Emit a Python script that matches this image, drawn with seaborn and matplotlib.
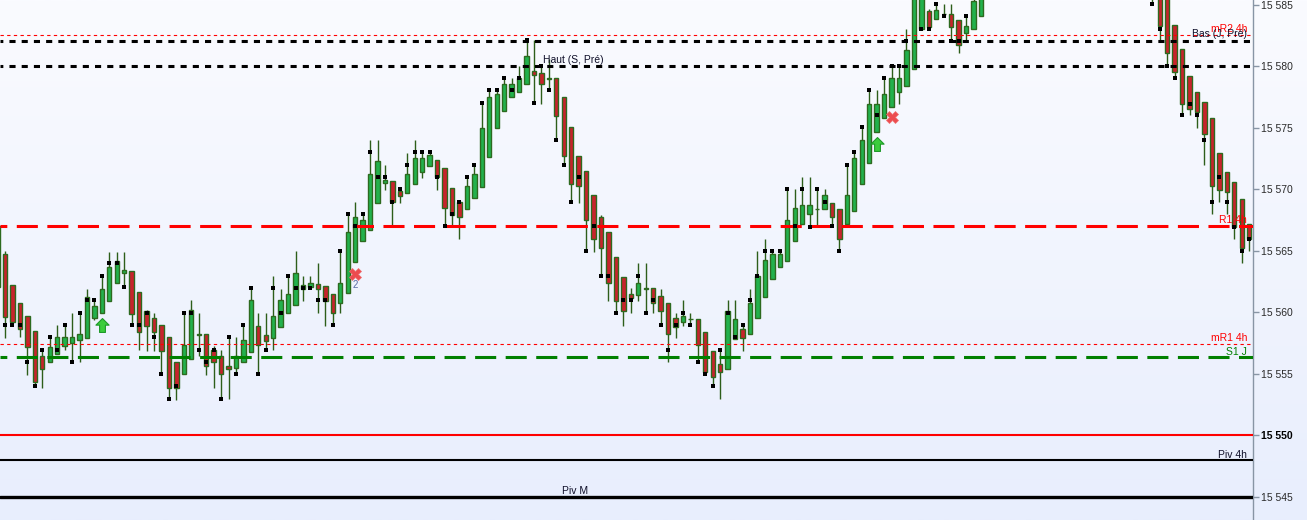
import numpy as np
import pandas as pd
import matplotlib
matplotlib.use("Agg")
import matplotlib.pyplot as plt
import seaborn as sns
from matplotlib.path import Path

sns.set_style("white")
plt.rcParams['font.family'] = ['Liberation Sans', 'DejaVu Sans']

# ---------------- data (prices) ----------------
opens = [15562.0,
    15564.75, 15562.2, 15560.7, 15559.65, 15558.45, 15556.4, 15555.9, 15556.55, 15557.2, 15557.5,
    15557.7, 15557.9, 15559.55, 15559.95, 15560.9, 15562.35, 15563.2, 15563.35, 15561.65, 15560.1,
    15559.5, 15558.95, 15557.95, 15555.95, 15554.95, 15556.15, 15558.2, 15558.2, 15556.9, 15556.4,
    15555.65, 15555.45, 15555.95, 15556.75, 15558.85, 15558.1, 15557.85, 15558.75, 15559.9, 15560.6,
    15561.85, 15562.05, 15562.25, 15562.1, 15561.5, 15560.7, 15561.55, 15564.05, 15565.8, 15566.65,
    15568.9, 15570.5, 15570.65, 15569.85, 15569.65, 15570.4, 15571.4, 15571.9, 15572.35, 15571.7,
    15570.05, 15568.95, 15568.35, 15569.25, 15570.2, 15572.6, 15575.0, 15576.35, 15577.45, 15577.9,
    15578.5, 15579.6, 15579.4, 15579.0, 15579.0, 15577.45, 15575.05, 15572.7, 15571.5, 15569.5,
    15567.7, 15566.5, 15564.45, 15562.85, 15561.5, 15561.35, 15561.95, 15561.95, 15561.3, 15560.7,
    15559.5, 15559.15, 15559.4, 15559.4, 15558.4, 15556.8, 15555.75, 15555.4, 15557.8, 15558.6,
    15558.25, 15559.5, 15561.2, 15562.65, 15563.7, 15564.15, 15565.8, 15567.15, 15567.95, 15568.4,
    15568.35, 15568.9, 15568.35, 15567.15, 15568.25, 15570.4, 15572.15, 15574.6, 15575.75, 15576.7,
    15577.85, 15578.4, 15579.8, 15583.0, 15584.45, 15583.85, 15584.25, 15584.25, 15583.75, 15582.7,
    15583.0, 15584.1, 15586.3, 15587.5, 15588.6, 15589.1, 15590.8, 15590.1, 15589.4, 15590.2,
    15591.7, 15592.3, 15591.4, 15590.3, 15591.0, 15589.6, 15588.7, 15589.3, 15588.2, 15587.4,
    15588.0, 15587.2, 15586.8, 15587.9, 15587.1, 15586.6, 15586.0, 15583.35, 15581.35, 15579.2,
    15577.9, 15577.05, 15575.75, 15572.95, 15571.4, 15570.6, 15569.15, 15567.15]

highs = [15567.3,
    15565.0, 15562.2, 15560.7, 15559.65, 15558.45, 15556.9, 15558.0, 15558.95, 15558.95, 15559.9,
    15559.9, 15561.9, 15561.0, 15562.95, 15564.9, 15564.9, 15564.9, 15563.35, 15561.65, 15560.15,
    15559.9, 15558.95, 15557.95, 15555.95, 15559.95, 15561.0, 15559.9, 15558.2, 15557.2, 15556.9,
    15558.0, 15558.0, 15558.95, 15561.95, 15559.9, 15559.9, 15562.95, 15561.9, 15562.95, 15564.95,
    15562.95, 15562.95, 15563.95, 15562.1, 15561.5, 15564.95, 15567.95, 15568.95, 15567.95, 15573.95,
    15573.95, 15571.95, 15570.65, 15570.0, 15572.95, 15573.95, 15573.0, 15573.0, 15572.35, 15571.7,
    15570.05, 15568.95, 15571.0, 15571.95, 15577.0, 15578.05, 15578.05, 15579.05, 15579.0, 15580.0,
    15582.1, 15582.1, 15580.15, 15580.6, 15579.0, 15577.45, 15575.05, 15572.7, 15571.5, 15569.5,
    15567.9, 15566.5, 15564.45, 15562.85, 15561.95, 15563.95, 15563.95, 15561.95, 15561.9, 15560.7,
    15559.9, 15560.95, 15559.9, 15559.4, 15558.4, 15556.8, 15556.9, 15560.95, 15560.95, 15558.95,
    15561.9, 15564.95, 15565.95, 15564.95, 15564.95, 15570.0, 15570.0, 15570.95, 15570.95, 15570.0,
    15570.0, 15568.9, 15568.35, 15571.95, 15573.05, 15575.05, 15578.05, 15578.05, 15579.05, 15580.0,
    15580.0, 15583.0, 15587.5, 15588.5, 15584.6, 15585.05, 15585.05, 15585.05, 15583.75, 15584.1,
    15586.0, 15587.0, 15588.0, 15589.2, 15590.0, 15591.3, 15592.0, 15591.0, 15590.6, 15592.4,
    15593.1, 15593.5, 15592.2, 15591.7, 15591.9, 15590.3, 15589.9, 15590.1, 15589.0, 15588.6,
    15588.9, 15588.1, 15588.3, 15588.8, 15587.9, 15587.0, 15586.5, 15583.35, 15581.35, 15579.2,
    15577.9, 15577.05, 15575.75, 15572.95, 15571.4, 15570.6, 15569.15, 15567.15]

lows = [15561.5,
    15557.9, 15558.9, 15557.95, 15554.9, 15553.95, 15553.85, 15555.9, 15556.55, 15556.9, 15555.85,
    15555.9, 15557.9, 15559.35, 15559.95, 15560.9, 15562.35, 15562.05, 15558.95, 15556.9, 15556.85,
    15556.85, 15555.15, 15553.1, 15552.85, 15554.95, 15556.15, 15556.4, 15554.9, 15553.85, 15552.9,
    15552.9, 15555.0, 15555.95, 15556.75, 15555.0, 15556.85, 15556.9, 15558.75, 15559.9, 15560.6,
    15560.9, 15562.05, 15559.9, 15558.9, 15558.95, 15559.9, 15561.55, 15564.05, 15565.8, 15566.65,
    15568.9, 15569.9, 15567.0, 15568.9, 15569.65, 15570.4, 15570.9, 15571.9, 15569.9, 15566.95,
    15567.05, 15565.9, 15568.35, 15569.25, 15570.2, 15572.6, 15575.0, 15576.35, 15577.45, 15577.9,
    15578.5, 15577.0, 15576.95, 15578.05, 15573.95, 15571.95, 15568.95, 15568.9, 15565.0, 15564.9,
    15562.95, 15560.9, 15559.9, 15558.9, 15559.9, 15560.9, 15559.95, 15559.9, 15558.95, 15555.9,
    15557.9, 15558.85, 15558.95, 15555.95, 15554.95, 15553.95, 15552.9, 15555.4, 15557.8, 15556.85,
    15558.25, 15559.5, 15561.2, 15562.65, 15563.7, 15564.15, 15565.8, 15567.15, 15566.95, 15567.05,
    15568.35, 15567.0, 15565.0, 15567.15, 15568.25, 15570.4, 15572.15, 15574.6, 15575.75, 15576.7,
    15576.95, 15578.4, 15579.8, 15583.0, 15583.0, 15583.85, 15584.1, 15582.05, 15581.05, 15582.0,
    15583.0, 15584.1, 15585.8, 15586.9, 15587.8, 15588.4, 15589.6, 15588.7, 15588.2, 15589.9,
    15590.8, 15590.9, 15589.8, 15589.5, 15589.1, 15588.0, 15587.6, 15587.9, 15586.8, 15586.5,
    15586.9, 15586.2, 15586.4, 15586.6, 15585.05, 15582.1, 15580.0, 15579.05, 15576.0, 15576.0,
    15575.0, 15571.95, 15568.0, 15568.95, 15568.0, 15565.9, 15563.95, 15564.95]

closes = [15567.0,
    15559.6, 15559.15, 15558.65, 15557.15, 15554.35, 15555.4, 15557.15, 15557.95, 15557.95, 15557.95,
    15558.2, 15561.2, 15560.45, 15561.9, 15563.7, 15564.15, 15563.45, 15559.85, 15558.4, 15558.9,
    15558.4, 15556.85, 15553.85, 15553.85, 15557.35, 15560.15, 15558.15, 15555.65, 15555.9, 15554.95,
    15555.4, 15556.4, 15557.7, 15560.95, 15557.3, 15557.65, 15559.65, 15560.95, 15561.45, 15563.15,
    15562.2, 15562.4, 15561.9, 15560.9, 15559.9, 15562.4, 15566.5, 15567.7, 15567.5, 15571.2,
    15572.25, 15570.75, 15568.95, 15569.45, 15571.2, 15572.5, 15572.5, 15572.75, 15571.0, 15568.45,
    15567.9, 15567.7, 15570.25, 15571.2, 15575.0, 15577.45, 15577.7, 15578.55, 15578.55, 15579.05,
    15580.8, 15579.25, 15578.5, 15578.95, 15575.95, 15572.7, 15570.45, 15570.25, 15567.5, 15565.9,
    15565.2, 15562.4, 15560.9, 15560.1, 15561.15, 15562.4, 15561.9, 15560.7, 15560.1, 15558.2,
    15558.8, 15559.65, 15559.4, 15557.35, 15555.15, 15554.7, 15555.15, 15560.1, 15559.4, 15557.9,
    15560.7, 15562.95, 15564.25, 15564.7, 15564.7, 15567.5, 15568.45, 15568.7, 15568.7, 15568.35,
    15569.5, 15567.7, 15565.9, 15569.5, 15572.5, 15573.95, 15576.95, 15576.95, 15577.7, 15579.0,
    15579.0, 15581.3, 15586.8, 15587.8, 15583.2, 15584.55, 15584.2, 15583.2, 15581.75, 15583.25,
    15585.3, 15586.5, 15587.5, 15588.6, 15589.1, 15590.8, 15590.1, 15589.4, 15590.2, 15591.7,
    15592.3, 15591.4, 15590.3, 15591.0, 15589.6, 15588.7, 15589.3, 15588.2, 15587.4, 15588.0,
    15587.2, 15586.8, 15587.9, 15587.1, 15586.6, 15583.25, 15581.05, 15579.5, 15576.95, 15576.5,
    15576.25, 15574.45, 15570.25, 15569.95, 15569.75, 15566.95, 15565.2, 15565.9]

nan = float("nan")
squares = [nan,
    15558.95, 15558.95, 15558.95, 15555.95, 15553.95, 15556.9, 15558.0, 15556.9, 15558.95, 15555.95,
    15559.9, 15561.0, 15561.0, 15562.95, 15564.0, 15564.0, 15562.0, 15558.95, 15558.95, 15559.9,
    15558.0, 15554.95, 15552.95, 15553.95, 15559.95, 15559.95, 15556.9, 15555.95, 15556.9, 15552.95,
    15558.0, 15555.0, 15558.95, 15561.95, 15555.0, 15556.9, 15561.95, 15559.95, 15562.95, 15561.95,
    15561.95, 15561.95, 15560.95, 15560.95, 15558.95, 15564.95, 15567.95, 15567.0, 15567.95, 15573.0,
    15571.0, 15571.0, 15568.95, 15570.0, 15571.95, 15573.0, 15573.0, 15573.0, 15571.0, 15567.0,
    15568.0, 15568.95, 15571.0, 15571.95, 15577.0, 15578.05, 15578.05, 15579.05, 15578.05, 15579.05,
    15582.1, 15577.0, 15580.0, 15578.05, 15573.95, 15571.95, 15568.95, 15571.0, 15565.0, 15567.0,
    15562.95, 15562.95, 15559.9, 15560.95, 15560.95, 15562.95, 15559.95, 15560.95, 15558.95, 15556.9,
    15558.95, 15559.95, 15558.95, 15555.95, 15554.95, 15553.95, 15556.9, 15559.95, 15557.95, 15558.95,
    15560.95, 15562.95, 15564.95, 15564.95, 15564.95, 15570.0, 15567.0, 15570.0, 15566.95, 15570.0,
    15568.95, 15567.0, 15565.0, 15571.95, 15573.05, 15575.05, 15578.05, 15576.0, 15579.05, 15580.0,
    15580.0, 15582.05, nan, 15583.0, 15583.0, 15585.05, 15584.1, 15582.05, 15582.05, 15584.1,
    nan, nan, nan, nan, nan, nan, nan, nan, nan, nan,
    nan, nan, nan, nan, nan, nan, nan, nan, nan, nan,
    nan, nan, nan, nan, 15585.05, 15583.0, 15580.0, 15579.05, 15576.0, 15576.95,
    15576.0, 15573.95, 15568.95, 15571.0, 15568.95, 15566.95, 15564.95, 15565.95]

# signal markers (bar index, price)
buy_idx = [14, 118]
buy_price = [15558.98, 15573.7]
exit_idx = [48, 120]
exit_price = [15563.1, 15575.83]
exit_note = ["2", ""]
exit_note_price = [15562.2, nan]

# horizontal levels
r1_4h = 15567.0
s1_j = 15556.35
mr1_4h = 15557.37
mr2_4h = 15582.52
bas_j_pre = 15582.03
haut_s_pre = 15580.0
last_price = 15550.0
piv_4h = 15547.97
piv_m = 15545.0

ytick_values = [15545, 15550, 15555, 15560, 15565, 15570, 15575, 15580, 15585]

df = pd.DataFrame({"open": opens, "high": highs, "low": lows, "close": closes, "mark": squares})
df["x"] = np.arange(len(df))

# ---------------- figure ----------------
W, H = 1307, 520
fig = plt.figure(figsize=(W / 100, H / 100), dpi=100)

bg = fig.add_axes([0, 0, 1, 1])
top = np.array([250, 251, 255]) / 255
bot = np.array([232, 238, 253]) / 255
t = np.linspace(0, 1, 256)[:, None, None]
grad = top[None, None, :] * (1 - t) + bot[None, None, :] * t
bg.imshow(grad, aspect="auto", extent=[0, 1, 0, 1], origin="upper")
bg.set_axis_off()
bg.set_zorder(0)

plot_w = 1253
ax = fig.add_axes([0, 0, plot_w / W, 1])
ax.set_zorder(1)
ax.patch.set_alpha(0)

up_fill = "#22b14c"
dn_fill = "#c8232c"
edge = "#2d6a1f"
wick = "#2d5e1a"

up = df["close"] >= df["open"]
ax.vlines(df["x"], df["low"], df["high"], color=wick, lw=1, zorder=2)
body_bottom = np.minimum(df["open"], df["close"])
body_h = np.abs(df["close"] - df["open"])
ax.bar(df["x"], body_h, bottom=body_bottom, width=0.58,
       color=np.where(up, up_fill, dn_fill), edgecolor=edge, linewidth=1, zorder=2)

# level lines
ax.axhline(r1_4h, color="#ff0000", lw=2.2, linestyle=(4.67, (6.9, 3.1)), zorder=3)
ax.axhline(s1_j, color="#008000", lw=2.2, linestyle=(4.67, (6.9, 3.1)), zorder=3)
ax.axhline(mr1_4h, color="#ff0000", lw=0.8, linestyle=(0, (3, 3)), zorder=3)
ax.axhline(mr2_4h, color="#ff0000", lw=0.8, linestyle=(0, (3, 3)), zorder=3)
ax.axhline(bas_j_pre, color="#000000", lw=2.2, linestyle=(1.07, (2.0, 2.0)), zorder=3)
ax.axhline(haut_s_pre, color="#000000", lw=2.2, linestyle=(1.07, (2.0, 2.0)), zorder=3)
ax.axhline(last_price, color="#ff0000", lw=1.5, zorder=3)
ax.axhline(piv_4h, color="#000000", lw=1.5, zorder=3)
ax.axhline(piv_m, color="#000000", lw=2.4, zorder=3)

# square markers
sns.scatterplot(data=df, x="x", y="mark", marker="s", s=9, color="black",
                linewidth=0, legend=False, ax=ax, zorder=4)

# arrows (custom up arrow marker)
arrow = Path([(0, 1), (0.95, 0.05), (0.42, 0.05), (0.42, -1), (-0.42, -1), (-0.42, 0.05),
              (-0.95, 0.05), (0, 1)],
             [Path.MOVETO] + [Path.LINETO] * 6 + [Path.CLOSEPOLY])
ax.plot(buy_idx, buy_price, linestyle="none", marker=arrow, markersize=10,
        markerfacecolor="#3ccd3c", markeredgecolor="#1f9a2a", markeredgewidth=0.8, zorder=5)
ax.plot(exit_idx, exit_price, linestyle="none", marker="X", markersize=9,
        markerfacecolor="#ec4c4f", markeredgecolor="#f07070", markeredgewidth=0.5, zorder=5)
for xi, note, yp in zip(exit_idx, exit_note, exit_note_price):
    if note:
        ax.text(xi, yp, note, color="#5b6aa5", fontsize=7, ha="center", va="center", zorder=5)

# level labels
yt = ax.get_yaxis_transform()
xr = 1247 / plot_w
fs = 7.5
ax.text(xr, 15582.78, "mR2 4h", transform=yt, ha="right", va="baseline", color="#ff0000", fontsize=fs, zorder=6)
ax.text(xr, 15582.36, "Bas (J, Pré)", transform=yt, ha="right", va="baseline", color="#10102a", fontsize=fs, zorder=6)
ax.text(xr, 15567.24, "R1 4h", transform=yt, ha="right", va="baseline", color="#ff0000", fontsize=fs, zorder=6)
ax.text(xr, 15557.64, "mR1 4h", transform=yt, ha="right", va="baseline", color="#ff0000", fontsize=fs, zorder=6)
ax.text(xr, 15556.5, "S1 J", transform=yt, ha="right", va="baseline", color="#008000", fontsize=fs, zorder=6)
ax.text(xr, 15548.13, "Piv 4h", transform=yt, ha="right", va="baseline", color="#10102a", fontsize=fs, zorder=6)
ax.text(543 / plot_w, 15580.24, "Haut (S, Pré)", transform=yt, ha="left", va="baseline", color="#10102a", fontsize=fs, zorder=6)
ax.text(562 / plot_w, 15545.2, "Piv M", transform=yt, ha="left", va="baseline", color="#10102a", fontsize=fs, zorder=6)

# axes
ax.set_xlim(1 - 5 / 7.45, 1 + (plot_w - 5) / 7.45)
ax.set_ylim(15543.09, 15585.37)
ax.set_xticks([])
ax.set_xlabel("")
ax.set_ylabel("")
ax.yaxis.tick_right()
ax.set_yticks(ytick_values)
ax.set_yticklabels([f"{v:,}".replace(",", " ") for v in ytick_values])
ax.tick_params(axis="y", direction="out", length=4, width=1, color="#8895a5",
               labelsize=7.5, labelcolor="#2a2a2a", pad=2, right=True, left=False)
for lbl, v in zip(ax.get_yticklabels(), ytick_values):
    if v == 15550:
        lbl.set_fontweight("bold")
        lbl.set_color("black")
for s in ["left", "top", "bottom"]:
    ax.spines[s].set_visible(False)
ax.spines["right"].set_color("#8895a5")
ax.spines["right"].set_linewidth(1)

fig.savefig("out.png", dpi=100)
